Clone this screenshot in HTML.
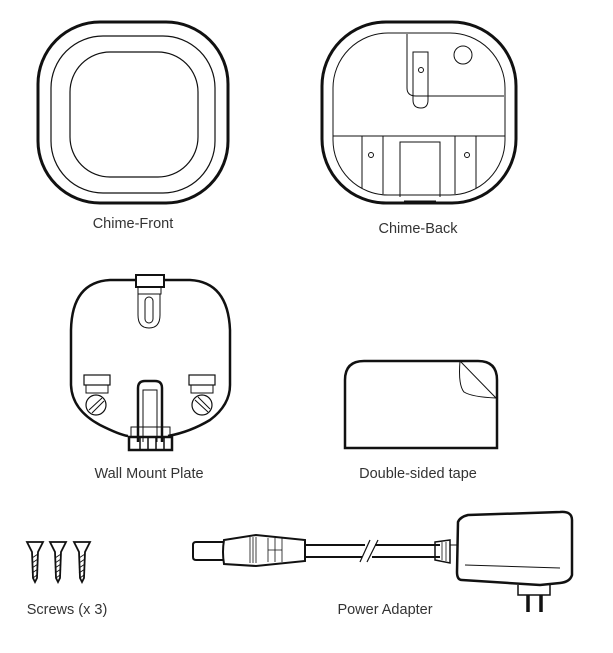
<!DOCTYPE html>
<html><head><meta charset="utf-8"><style>
html,body{margin:0;padding:0;background:#fff;width:613px;height:653px;overflow:hidden}
svg{display:block}
text{font-family:"Liberation Sans",Arial,sans-serif;font-size:14.5px;fill:#333}
</style></head><body>
<svg width="613" height="653" viewBox="0 0 613 653" xmlns="http://www.w3.org/2000/svg" fill="none" stroke="#111">
<!-- Chime Front -->
<rect x="38" y="22" width="190" height="181" rx="62" stroke-width="3"/>
<rect x="51" y="36" width="164" height="157" rx="52" stroke-width="1.2"/>
<rect x="70" y="52" width="128" height="125" rx="40" stroke-width="1.2"/>
<text x="133" y="228" text-anchor="middle" stroke="none">Chime-Front</text>
<!-- Chime Back -->
<rect x="322" y="22" width="194" height="181" rx="64" stroke-width="3"/>
<rect x="333" y="33" width="172" height="162" rx="55" stroke-width="1"/>
<path d="M407 34 L407 88 Q407 96 416 96 L504 96" stroke-width="1"/>
<path d="M333 136 L505 136" stroke-width="1"/>
<path d="M413 52 L413 100 Q413 108 421 108 Q428 108 428 100 L428 52 Z" stroke-width="1"/>
<circle cx="421" cy="70" r="2.5" stroke-width="1"/>
<circle cx="463" cy="55" r="9" stroke-width="1"/>
<path d="M362 136 L362 188 M383 136 L383 194 M362 136 L383 136" stroke-width="1"/>
<circle cx="371" cy="155" r="2.5" stroke-width="1"/>
<path d="M455 136 L455 194 M476 136 L476 188 M455 136 L476 136" stroke-width="1"/>
<circle cx="467" cy="155" r="2.5" stroke-width="1"/>
<path d="M400 197 L400 142 L440 142 L440 197 M404 201 L436 201" stroke-width="1"/>
<text x="418" y="233" text-anchor="middle" stroke="none">Chime-Back</text>
<!-- Wall Mount Plate -->
<path d="M136 280 L110 280 Q72 282 71 330 L71 385 Q72 410 100 425 Q120 435 128 436 M168 436 Q190 432 210 420 Q230 405 230 385 L230 330 Q228 282 190 280 L164 280" stroke-width="2.5"/>
<rect x="136" y="275" width="28" height="12" stroke-width="2"/>
<rect x="138" y="287" width="23" height="7" stroke-width="1"/>
<path d="M138 294 L138 315 Q138 328 149 328 Q160 328 160 315 L160 294" stroke-width="1"/>
<rect x="145" y="297" width="8" height="26" rx="4" stroke-width="1"/>
<rect x="84" y="375" width="26" height="10" stroke-width="1.2"/>
<rect x="86" y="385" width="22" height="8" stroke-width="1"/>
<circle cx="96" cy="405" r="10" stroke-width="1.2"/>
<path d="M89 410 L102 398 M92 413 L104 401" stroke-width="1"/>
<rect x="189" y="375" width="26" height="10" stroke-width="1.2"/>
<rect x="191" y="385" width="22" height="8" stroke-width="1"/>
<circle cx="202" cy="405" r="10" stroke-width="1.2"/>
<path d="M195 400 L208 412 M198 397 L210 409" stroke-width="1"/>
<path d="M138 442 L138 388 Q138 381 145 381 L155 381 Q162 381 162 388 L162 442" stroke-width="2.5"/>
<path d="M143 442 L143 390 L157 390 L157 442" stroke-width="1"/>
<rect x="131" y="427" width="39" height="10" stroke-width="1"/>
<rect x="129" y="437" width="43" height="13" stroke-width="2.5"/>
<path d="M140 437 L140 450 M148 437 L148 450 M156 437 L156 450 M164 437 L164 450" stroke-width="1.5"/>
<text x="149" y="478" text-anchor="middle" stroke="none">Wall Mount Plate</text>
<!-- Tape -->
<path d="M345 448 L345 380 Q345 361 364 361 L478 361 Q497 361 497 380 L497 448 Z" stroke-width="2.5"/>
<path d="M460 361 Q458 385 464 392 Q472 397 496 398 Z" stroke-width="1"/>
<text x="418" y="478" text-anchor="middle" stroke="none">Double-sided tape</text>
<!-- Screws -->
<g stroke-width="1.8">
<path d="M27 542 L43 542 L38 552 L37 578 L35 582 L33 578 L32 552 Z"/>
<path d="M50 542 L66 542 L61 552 L60 578 L58 582 L56 578 L55 552 Z"/>
<path d="M74 542 L90 542 L85 552 L84 578 L82 582 L80 578 L79 552 Z"/>
</g>
<g stroke-width="0.8">
<path d="M32 558 L38 554 M32 563 L38 559 M32 568 L38 564 M32 573 L38 569 M33 578 L37 575"/>
<path d="M55 558 L61 554 M55 563 L61 559 M55 568 L61 564 M55 573 L61 569 M56 578 L60 575"/>
<path d="M79 558 L85 554 M79 563 L85 559 M79 568 L85 564 M79 573 L85 569 M80 578 L84 575"/>
</g>
<text x="67" y="614" text-anchor="middle" stroke="none">Screws (x 3)</text>
<!-- Power adapter -->
<g stroke-width="2">
<path d="M224 542 L196 542 Q193 542 193 545 L193 557 Q193 560 196 560 L224 560"/>
<path d="M224 540 Q222 552 224 564 L256 566 L305 561 L305 540 L256 535 Z"/>
<path d="M305 545 L365 545 M305 557 L362 557 M375 545 L440 545 M372 557 L440 557"/>
<path d="M360 562 L370 540 M367 562 L378 540" stroke-width="1.2"/>
<path d="M435 542 L450 540 L450 563 L435 560 Z" stroke-width="1.5"/>
<path d="M458 522 Q460 517 468 515 L560 512 Q572 511 572 520 L572 575 Q570 582 560 583 L540 585 L462 580 Q457 580 457 572 Z" stroke-width="2.5"/>
<path d="M465 565 L560 568 M457 545 L450 545" stroke-width="1"/>
<path d="M518 585 L518 595 L550 595 L550 585" stroke-width="1.5"/>
<path d="M528 595 L528 612 M541 595 L541 612" stroke-width="3.5"/>
</g>
<g stroke-width="0.8"><path d="M250 537 L250 563 M253 537 L253 563 M256 537 L256 563 M268 538 L268 562 M275 538 L275 562 M282 538 L282 562 M268 550 L282 550 M442 542 L442 560 M446 542 L446 561"/></g>
<text x="385" y="614" text-anchor="middle" stroke="none">Power Adapter</text>
</svg>
</body></html>
